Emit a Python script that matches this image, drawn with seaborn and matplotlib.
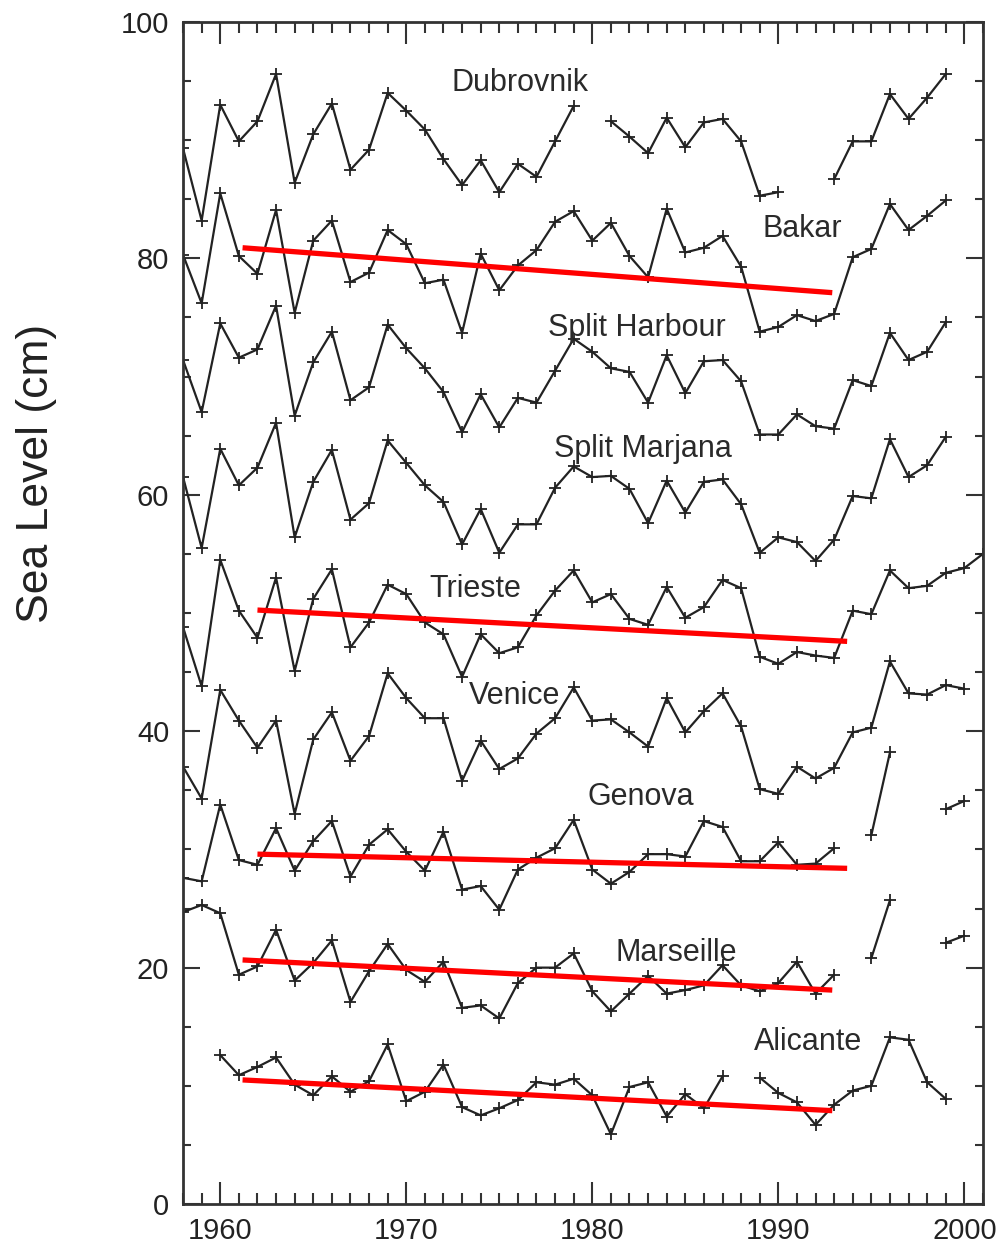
import numpy as np
import pandas as pd
import seaborn as sns
import matplotlib
matplotlib.use('Agg')
import matplotlib.pyplot as plt
from matplotlib.ticker import MultipleLocator

sns.set_style('ticks')
plt.rcParams['font.family'] = ['Liberation Sans', 'DejaVu Sans']

nan = np.nan
years = list(range(1958, 2002))

# annual mean sea level (cm), 1958..2001, nan = no data
dubrovnik = [89.3, 83.2, 93.0, 89.9, 91.6, 95.6, 86.4, 90.5, 93.1, 87.5, 89.2, 94.0, 92.5, 90.9, 88.4,
             86.2, 88.3, 85.6, 88.0, 86.9, 89.9, 92.9, nan, 91.6, 90.3, 88.9, 91.9, 89.4, 91.5, 91.8,
             89.9, 85.3, 85.6, nan, nan, 86.7, 89.9, 89.9, 93.9, 91.8, 93.6, 95.6, nan, nan]
bakar = [80.3, 76.2, 85.5, 80.2, 78.7, 84.1, 75.4, 81.5, 83.2, 78.0, 78.8, 82.4, 81.2, 77.9, 78.2,
         73.7, 80.4, 77.3, 79.4, 80.7, 83.1, 84.0, 81.5, 83.0, 80.2, 78.4, 84.2, 80.5, 80.9, 81.9,
         79.3, 73.8, 74.2, 75.2, 74.7, 75.3, 80.1, 80.8, 84.6, 82.4, 83.6, 84.9, nan, nan]
split_harbour = [71.4, 67.0, 74.5, 71.6, 72.3, 76.0, 66.7, 71.2, 73.8, 68.0, 69.1, 74.4, 72.4, 70.7, 68.7,
                 65.3, 68.5, 65.7, 68.2, 67.8, 70.5, 73.2, 72.1, 70.7, 70.4, 67.8, 71.8, 68.6, 71.3, 71.4,
                 69.6, 65.1, 65.1, 66.8, 65.8, 65.6, 69.7, 69.2, 73.7, 71.4, 72.1, 74.6, nan, nan]
split_marjana = [61.5, 55.5, 63.9, 60.8, 62.3, 66.1, 56.4, 61.1, 63.8, 57.9, 59.3, 64.6, 62.7, 60.8, 59.4,
                 55.8, 58.8, 55.1, 57.5, 57.5, 60.6, 62.4, 61.5, 61.6, 60.5, 57.6, 61.2, 58.5, 61.1, 61.3,
                 59.2, 55.1, 56.4, 56.0, 54.4, 56.2, 59.9, 59.7, 64.7, 61.5, 62.5, 64.9, nan, nan]
trieste = [48.8, 43.8, 54.5, 50.2, 47.9, 53.0, 45.1, 51.2, 53.7, 47.1, 49.2, 52.4, 51.6, 49.2, 48.2,
           44.6, 48.2, 46.6, 47.1, 49.8, 51.9, 53.6, 50.9, 51.6, 49.5, 49.0, 52.2, 49.6, 50.5, 52.8,
           52.1, 46.3, 45.7, 46.7, 46.4, 46.2, 50.2, 49.9, 53.6, 52.1, 52.3, 53.4, 53.8, 55.0]
venice = [37.0, 34.3, 43.5, 40.9, 38.6, 40.9, 33.0, 39.3, 41.6, 37.5, 39.6, 44.9, 42.8, 41.1, 41.1,
          35.8, 39.2, 36.8, 37.7, 39.8, 41.1, 43.7, 40.9, 41.0, 39.9, 38.7, 42.8, 39.9, 41.7, 43.2,
          40.4, 35.1, 34.7, 37.0, 36.0, 36.9, 39.9, 40.3, 45.9, 43.2, 43.1, 43.9, 43.6, nan]
genova = [27.6, 27.3, 33.8, 29.1, 28.7, 31.8, 28.2, 30.7, 32.4, 27.7, 30.4, 31.7, 29.8, 28.2, 31.5,
          26.6, 26.9, 24.9, 28.3, 29.3, 30.1, 32.5, 28.3, 27.1, 28.1, 29.6, 29.6, 29.4, 32.4, 31.9,
          29.0, 29.0, 30.6, 28.7, 28.8, 30.1, nan, 31.2, 38.2, nan, nan, 33.4, 34.1, nan]
marseille = [24.7, 25.3, 24.6, 19.4, 20.1, 23.2, 18.9, 20.4, 22.3, 17.1, 19.7, 22.0, 19.8, 18.8, 20.5,
             16.6, 16.8, 15.7, 18.7, 20.0, 20.0, 21.2, 18.0, 16.3, 17.8, 19.3, 17.8, 18.1, 18.5, 20.2,
             18.5, 18.0, 18.7, 20.5, 17.8, 19.4, nan, 20.8, 25.7, nan, nan, 22.1, 22.7, nan]
alicante = [nan, nan, 12.6, 10.9, 11.6, 12.4, 10.1, 9.2, 10.8, 9.5, 10.4, 13.5, 8.7, 9.5, 11.8,
            8.2, 7.5, 8.1, 8.8, 10.3, 10.1, 10.6, 9.2, 5.9, 9.9, 10.3, 7.4, 9.3, 8.1, 10.8,
            nan, 10.7, 9.4, 8.6, 6.7, 8.4, 9.6, 10.0, 14.1, 13.9, 10.3, 8.9, nan, nan]

stations = ['Dubrovnik', 'Bakar', 'Split Harbour', 'Split Marjana', 'Trieste',
            'Venice', 'Genova', 'Marseille', 'Alicante']
series = [dubrovnik, bakar, split_harbour, split_marjana, trieste, venice, genova, marseille, alicante]

# where the station names sit (year, cm)
label_x = [1976.1, 1991.3, 1982.4, 1982.7, 1973.7, 1975.8, 1982.6, 1984.5, 1991.6]
label_y = [94.8, 82.5, 74.1, 63.9, 52.0, 43.0, 34.4, 21.2, 13.7]

# linear trends
trend_station = ['Bakar', 'Trieste', 'Genova', 'Marseille', 'Alicante']
trend_start = [1961.2, 1962.0, 1962.0, 1961.2, 1961.2]
trend_end = [1992.9, 1993.7, 1993.7, 1992.9, 1992.9]
trend_y0 = [80.9, 50.25, 29.6, 20.65, 10.5]
trend_y1 = [77.1, 47.6, 28.4, 18.1, 7.9]

# long table, split into unbroken runs so gaps stay open
rows = []
for name, vals in zip(stations, series):
    seg = 0
    for yr, v in zip(years, vals):
        if np.isnan(v):
            seg += 1
            continue
        rows.append({'station': name, 'unit': name + str(seg), 'year': yr, 'level': v})
df = pd.DataFrame(rows)

trend = pd.DataFrame({
    'unit': trend_station * 2,
    'year': trend_start + trend_end,
    'level': trend_y0 + trend_y1,
})

fig = plt.figure(figsize=(10.03, 12.49), dpi=100)
ax = fig.add_axes([0.1825, 0.036, 0.7975, 0.9464])

sns.lineplot(data=df, x='year', y='level', units='unit', estimator=None, sort=True,
             color='#222222', linewidth=1.6, marker='+', markersize=9, markeredgewidth=1.3,
             markeredgecolor='#222222', ax=ax, legend=False)
sns.lineplot(data=trend, x='year', y='level', units='unit', estimator=None,
             color='#ff0000', linewidth=3.8, solid_capstyle='butt', ax=ax, legend=False)

for name, x, y in zip(stations, label_x, label_y):
    ax.text(x, y, name, ha='center', va='center', fontsize=22, color='#2a2a2a')

ax.set_xlim(1958, 2001)
ax.set_ylim(0, 100)
ax.xaxis.set_major_locator(MultipleLocator(10))
ax.xaxis.set_minor_locator(MultipleLocator(1))
ax.yaxis.set_major_locator(MultipleLocator(20))
ax.yaxis.set_minor_locator(MultipleLocator(5))
ax.tick_params(which='both', direction='in', top=True, right=True, color='#333333',
               labelsize=21, labelcolor='#222222')
ax.tick_params(axis='x', which='major', length=16, width=1.5, pad=9)
ax.tick_params(axis='x', which='minor', length=8, width=1.5)
ax.tick_params(axis='y', which='major', length=12, width=1.5, pad=10)
ax.tick_params(axis='y', which='minor', length=6, width=1.5)
for sp in ax.spines.values():
    sp.set_linewidth(2)
    sp.set_color('#333333')

ax.set_xlabel('')
ax.set_ylabel('Sea Level (cm)', fontsize=32, color='#222222')
ax.yaxis.set_label_coords(-0.158, 0.618)

fig.savefig('out.png', dpi=100)
